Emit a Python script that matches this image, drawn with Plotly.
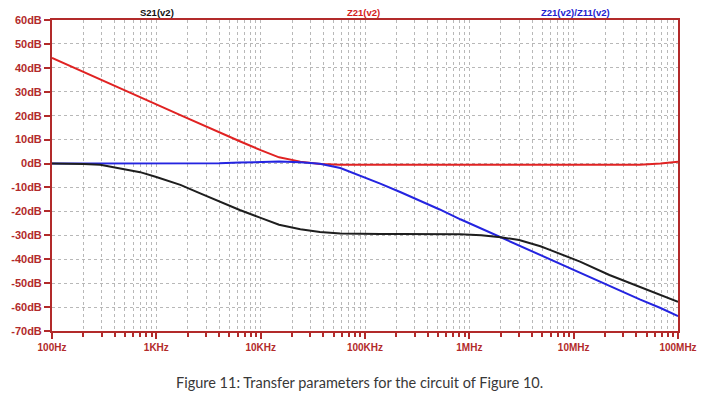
import plotly.graph_objects as go

# Frequencies (Hz) shared by all traces
freq_hz = [100, 140, 200, 290, 450, 700, 1000, 1700, 2600, 4000, 6300, 10000,
           15000, 24000, 37000, 58000, 90000, 140000, 220000, 340000, 520000,
           820000, 1.3e6, 2e6, 3e6, 4.8e6, 6e6, 1.15e7, 2.2e7, 2.8e7, 4.3e7,
           6.8e7, 1e8]

# S21(v2) in dB (black)
s21_db = [0, 0, -0.2, -0.5, -2.0, -3.6, -5.6, -8.9, -12.4, -15.9, -19.4, -22.7,
          -25.6, -27.5, -28.6, -29.2, -29.5, -29.5, -29.5, -29.5, -29.5,
          -29.6, -30.0, -30.8, -32.0, -34.6, -36.2, -41.0, -46.6, -48.4, -51.8,
          -55.2, -57.8]

# Z21(v2) in dB (red)
z21_db = [44.2, 41.4, 38.3, 35.1, 31.4, 27.7, 24.7, 20.2, 16.6, 13.0, 9.3, 5.6,
          2.6, 0.8, -0.2, -0.5, -0.5, -0.5, -0.5, -0.5, -0.5,
          -0.5, -0.5, -0.5, -0.5, -0.5, -0.5, -0.5, -0.5, -0.5, -0.5,
          0.0, 0.8]

# Z21(v2)/Z11(v2) in dB (blue)
ratio_db = [0, 0, 0, 0, 0, 0, 0, 0, 0, 0.1, 0.4, 0.5,
            0.8, 0.5, -0.1, -1.9, -5.0, -8.4, -12.0, -15.6, -19.2,
            -23.3, -27.2, -30.9, -34.4, -38.4, -40.3, -45.8, -51.2, -53.2, -56.8,
            -60.4, -63.8]

x_tickvals = [1e2, 1e3, 1e4, 1e5, 1e6, 1e7, 1e8]
x_ticktext = ["100Hz", "1KHz", "10KHz", "100KHz", "1MHz", "10MHz", "100MHz"]
y_tickvals = [60, 50, 40, 30, 20, 10, 0, -10, -20, -30, -40, -50, -60, -70]
y_ticktext = [f"<b>{v}dB</b>" for v in y_tickvals]

AXIS = "#b22a2a"
GRID = "#b8b8b8"

fig = go.Figure()
fig.add_trace(go.Scatter(x=freq_hz, y=z21_db, mode="lines", name="Z21(v2)",
                         line=dict(color="#e02222", width=2)))
fig.add_trace(go.Scatter(x=freq_hz, y=ratio_db, mode="lines", name="Z21(v2)/Z11(v2)",
                         line=dict(color="#2424e0", width=2)))
fig.add_trace(go.Scatter(x=freq_hz, y=s21_db, mode="lines", name="S21(v2)",
                         line=dict(color="#1e1e1e", width=2)))

# page body has an 8px margin, so the figure is 8px smaller and margins compensate
fig.update_layout(
    width=702, height=390,
    margin=dict(l=44, r=32, t=12, b=67),
    paper_bgcolor="white", plot_bgcolor="white",
    showlegend=False,
    font=dict(family="Liberation Sans, Arial, sans-serif"),
)

fig.update_xaxes(
    type="log", range=[2, 8], automargin=False,
    tickvals=x_tickvals, ticktext=[f"<b>{t}</b>" for t in x_ticktext],
    tickfont=dict(color=AXIS, size=10),
    ticks="outside", ticklen=6, tickwidth=2, tickcolor=AXIS,
    showline=True, linecolor=AXIS, linewidth=2, mirror=True,
    showgrid=True, gridcolor=GRID, griddash="dot", gridwidth=1,
    minor=dict(dtick="D1", showgrid=True, gridcolor=GRID, griddash="dot",
               ticks="outside", ticklen=4, tickcolor=AXIS, tickwidth=2),
    zeroline=False,
)
fig.update_yaxes(
    range=[-70, 60], automargin=False,
    tickvals=y_tickvals, ticktext=y_ticktext,
    tickfont=dict(color=AXIS, size=11),
    ticks="outside", ticklen=6, tickwidth=2, tickcolor=AXIS,
    showline=True, linecolor=AXIS, linewidth=2, mirror=True,
    showgrid=True, gridcolor=GRID, griddash="dot", gridwidth=1,
    zeroline=False,
)

titles = [("S21(v2)", 0.167, "#111111"), ("Z21(v2)", 0.497, "#d42020"),
          ("Z21(v2)/Z11(v2)", 0.837, "#2020d0")]
for text, xp, col in titles:
    fig.add_annotation(text=f"<b>{text}</b>", x=xp, y=1, xref="paper", yref="paper",
                       xanchor="center", yanchor="bottom", yshift=1, borderpad=0,
                       showarrow=False,
                       font=dict(color=col, size=9.5))

fig.add_annotation(text="Figure 11: Transfer parameters for the circuit of Figure 10.",
                   x=(359 - 52) / 626, y=-(382 - 331) / 311, xref="paper", yref="paper",
                   xanchor="center", yanchor="middle", showarrow=False,
                   font=dict(color="#383838", size=14.5, family="Lato, Open Sans, sans-serif"))

fig.write_html("out.html")
